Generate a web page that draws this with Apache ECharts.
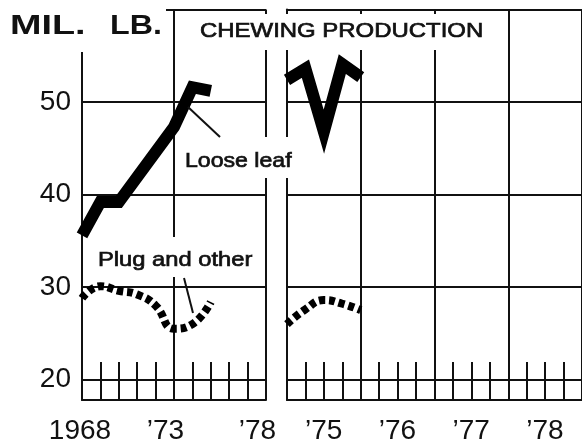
<!DOCTYPE html>
<html>
<head>
<meta charset="utf-8">
<script src="https://cdn.jsdelivr.net/npm/echarts@6/dist/echarts.min.js"></script>
<style>
  html, body { margin: 0; padding: 0; background: #fff; }
  #main { width: 582px; height: 446px; }
</style>
</head>
<body>
<div id="main"></div>
<script>
// annual panel, 1968-1978
var annualYears = [1968, 1969, 1970, 1971, 1972, 1973, 1974, 1975];
var looseLeafAnnual = [35.6, 39.2, 39.2, 41.9, 44.6, 47.3, 51.6, 51.2];
var plugAnnual = [28.8, 30.1, 29.6, 29.2, 28.0, 25.5, 26.0, 28.4];

// quarterly panel, 1975-1978
var quarters = [1975, 1975.25, 1975.5, 1975.75, 1976];
var looseLeafQuarterly = [52.4, 53.6, 46.8, 54.1, 52.7];
var plugQuarterly = [26.0, 27.6, 28.6, 28.2, 27.5];

// tick labels
var annualTickYears = [1968, 1973, 1978];
var annualTickLabels = ['1968', '\u201973', '\u201978'];
var quarterTickYears = [1975, 1976, 1977, 1978];
var quarterTickLabels = ['\u201975', '\u201976', '\u201977', '\u201978'];

var FONT = '"Liberation Sans", Arial, sans-serif';
var INK = '#111';

function pairs(xs, ys) {
    return xs.map(function (x, i) { return [x, ys[i]]; });
}

var chart = echarts.init(document.getElementById('main'), null, { renderer: 'canvas' });

var yBase = {
    type: 'value',
    min: 17.8,
    max: 60,
    minInterval: 10,
    maxInterval: 10,
    axisLine: { show: true, lineStyle: { color: INK, width: 2 } },
    axisTick: { show: false },
    splitLine: { show: true, lineStyle: { color: INK, width: 2 } }
};

// label style for the small captions (a little heavier than regular)
function caption(text, x, y, sx) {
    return {
        type: 'text', z: 101, x: x, y: y, scaleX: sx,
        style: {
            text: text, font: '21px ' + FONT, fill: INK,
            stroke: INK, lineWidth: 0.7,
            textAlign: 'left', textVerticalAlign: 'middle'
        }
    };
}

var option = {
    animation: false,
    backgroundColor: '#fff',
    grid: [
        { left: 82, width: 184, top: 9.5, height: 390.5 },
        { left: 287, width: 300, top: 9.5, height: 390.5 }
    ],
    yAxis: [
        Object.assign({}, yBase, {
            gridIndex: 0,
            axisLabel: {
                show: true, margin: 11, color: INK, fontFamily: FONT, fontSize: 28,
                formatter: function (v) {
                    return (Math.abs(v % 10) < 1e-6 && v < 60) ? String(v) : '';
                }
            }
        }),
        Object.assign({}, yBase, { gridIndex: 1, axisLabel: { show: false } })
    ],
    xAxis: [
        {
            gridIndex: 0, type: 'value', min: 1968, max: 1978, interval: 5,
            position: 'bottom',
            axisLine: { show: true, onZero: false, lineStyle: { color: INK, width: 2 } },
            axisTick: { show: false },
            splitLine: { show: true, lineStyle: { color: INK, width: 2 } },
            axisLabel: {
                margin: 17, color: INK, fontFamily: FONT, fontSize: 28,
                showMinLabel: true, showMaxLabel: true,
                formatter: function (v) {
                    var i = annualTickYears.indexOf(v);
                    if (i < 0) return '';
                    return i === 0 ? '{a|' + annualTickLabels[i] + '}' : '{b|' + annualTickLabels[i] + '}';
                },
                rich: {
                    a: { fontFamily: FONT, fontSize: 28, color: INK, padding: [0, 4, 0, 0] },
                    b: { fontFamily: FONT, fontSize: 28, color: INK, padding: [0, 17, 0, 0] }
                }
            }
        },
        {
            gridIndex: 0, type: 'value', min: 1968, max: 1978, interval: 1,
            position: 'bottom',
            axisLine: { show: false, onZero: false },
            axisTick: { show: true, inside: true, length: 38, lineStyle: { color: INK, width: 2 } },
            splitLine: { show: false },
            axisLabel: { show: false }
        },
        {
            gridIndex: 1, type: 'value', min: 1975, max: 1979, interval: 1,
            position: 'bottom',
            axisLine: { show: true, onZero: false, lineStyle: { color: INK, width: 2 } },
            axisTick: { show: false },
            splitLine: { show: true, lineStyle: { color: INK, width: 2 } },
            axisLabel: {
                margin: 17, color: INK, fontFamily: FONT, fontSize: 28,
                align: 'left', padding: [0, 0, 0, 18],
                showMaxLabel: false,
                formatter: function (v) {
                    var i = quarterTickYears.indexOf(v);
                    return i < 0 ? '' : quarterTickLabels[i];
                }
            }
        },
        {
            gridIndex: 1, type: 'value', min: 1975, max: 1979, interval: 0.25,
            position: 'bottom',
            axisLine: { show: false, onZero: false },
            axisTick: { show: true, inside: true, length: 38, lineStyle: { color: INK, width: 2 } },
            splitLine: { show: false },
            axisLabel: { show: false }
        }
    ],
    series: [
        {
            name: 'Loose leaf', type: 'line', xAxisIndex: 0, yAxisIndex: 0,
            data: pairs(annualYears, looseLeafAnnual),
            symbol: 'none', clip: true, z: 5,
            lineStyle: { color: '#000', width: 12, join: 'miter', cap: 'butt' }
        },
        {
            name: 'Plug and other', type: 'line', xAxisIndex: 0, yAxisIndex: 0,
            data: pairs(annualYears, plugAnnual),
            symbol: 'none', smooth: true, clip: true, z: 5,
            lineStyle: { color: '#000', width: 8, type: [6, 4], cap: 'butt' }
        },
        {
            name: 'Loose leaf Q', type: 'line', xAxisIndex: 2, yAxisIndex: 1,
            data: pairs(quarters, looseLeafQuarterly),
            symbol: 'none', clip: true, z: 5,
            lineStyle: { color: '#000', width: 12, join: 'miter', miterLimit: 10, cap: 'butt' }
        },
        {
            name: 'Plug and other Q', type: 'line', xAxisIndex: 2, yAxisIndex: 1,
            data: pairs(quarters, plugQuarterly),
            symbol: 'none', smooth: true, clip: true, z: 5,
            lineStyle: { color: '#000', width: 8, type: [6, 4], cap: 'butt' }
        }
    ],
    graphic: [
        // unit label box over the top-left corner
        { type: 'rect', z: 100, shape: { x: 40, y: 0, width: 126, height: 52 }, style: { fill: '#fff' } },
        { type: 'text', z: 101, x: 10, y: 26, scaleX: 1.35,
          style: { text: 'MIL.', font: 'bold 28px ' + FONT, fill: INK, textAlign: 'left', textVerticalAlign: 'middle' } },
        { type: 'text', z: 101, x: 110, y: 26, scaleX: 1.15,
          style: { text: 'LB.', font: 'bold 28px ' + FONT, fill: INK, textAlign: 'left', textVerticalAlign: 'middle' } },
        // title box
        { type: 'rect', z: 3, shape: { x: 180, y: 14, width: 322, height: 36 }, style: { fill: '#fff' } },
        caption('CHEWING PRODUCTION', 200, 31, 1.14),
        // Loose leaf label
        { type: 'rect', z: 100, shape: { x: 178, y: 137, width: 120, height: 41 }, style: { fill: '#fff' } },
        caption('Loose leaf', 185, 161, 1.1),
        { type: 'line', z: 101, shape: { x1: 188, y1: 107, x2: 220, y2: 137 }, style: { stroke: INK, lineWidth: 2 } },
        // Plug and other label
        { type: 'rect', z: 100, shape: { x: 92, y: 237, width: 168, height: 40 }, style: { fill: '#fff' } },
        caption('Plug and other', 98, 260, 1.13),
        { type: 'line', z: 101, shape: { x1: 184, y1: 278, x2: 193, y2: 313 }, style: { stroke: INK, lineWidth: 2 } }
    ]
};

chart.setOption(option);
</script>
</body>
</html>
